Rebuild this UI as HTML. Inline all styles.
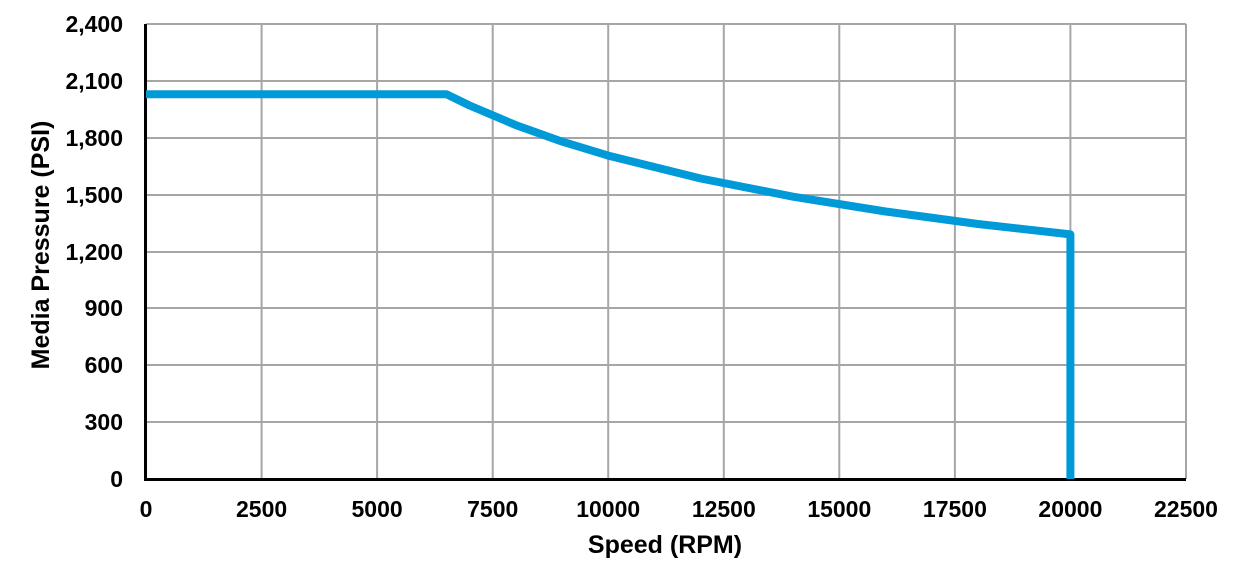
<!DOCTYPE html>
<html><head><meta charset="utf-8"><style>
html,body{margin:0;padding:0;background:#fff;}
svg text{font-family:"Liberation Sans",Arial,sans-serif;font-weight:bold;fill:#000;}
</style></head><body>
<svg width="1244" height="583" xmlns="http://www.w3.org/2000/svg">
<g stroke="#a6a6a6" stroke-width="2">
<line x1="146" y1="24" x2="1186" y2="24"/>
<line x1="146" y1="81" x2="1186" y2="81"/>
<line x1="146" y1="138" x2="1186" y2="138"/>
<line x1="146" y1="195" x2="1186" y2="195"/>
<line x1="146" y1="252" x2="1186" y2="252"/>
<line x1="146" y1="308" x2="1186" y2="308"/>
<line x1="146" y1="365" x2="1186" y2="365"/>
<line x1="146" y1="422" x2="1186" y2="422"/>
<line x1="261.6" y1="24" x2="261.6" y2="479"/>
<line x1="377.1" y1="24" x2="377.1" y2="479"/>
<line x1="492.7" y1="24" x2="492.7" y2="479"/>
<line x1="608.2" y1="24" x2="608.2" y2="479"/>
<line x1="723.8" y1="24" x2="723.8" y2="479"/>
<line x1="839.3" y1="24" x2="839.3" y2="479"/>
<line x1="954.9" y1="24" x2="954.9" y2="479"/>
<line x1="1070.4" y1="24" x2="1070.4" y2="479"/>
<line x1="1186" y1="24" x2="1186" y2="479"/>
</g>
<line x1="145.5" y1="24" x2="145.5" y2="481" stroke="#000" stroke-width="3"/>
<line x1="144" y1="479.5" x2="1186" y2="479.5" stroke="#000" stroke-width="3"/>
<polyline fill="none" stroke="#009ad8" stroke-width="8" stroke-linejoin="round"
points="146,94.2 446.4,94.2 469.6,105.5 515.8,125.1 562,141.6 608.2,155.6 700.7,178.5 793.1,196.7 885.6,211.5 978,224 1070.4,234.4 1070.4,479"/>
<g font-size="23" text-anchor="end">
<text x="123" y="32">2,400</text>
<text x="123" y="89">2,100</text>
<text x="123" y="146">1,800</text>
<text x="123" y="203">1,500</text>
<text x="123" y="260">1,200</text>
<text x="123" y="316">900</text>
<text x="123" y="373">600</text>
<text x="123" y="430">300</text>
<text x="123" y="487">0</text>
</g>
<g font-size="23" text-anchor="middle">
<text x="146" y="517">0</text>
<text x="261.6" y="517">2500</text>
<text x="377.1" y="517">5000</text>
<text x="492.7" y="517">7500</text>
<text x="608.2" y="517">10000</text>
<text x="723.8" y="517">12500</text>
<text x="839.3" y="517">15000</text>
<text x="954.9" y="517">17500</text>
<text x="1070.4" y="517">20000</text>
<text x="1186" y="517">22500</text>
</g>
<g font-size="25" text-anchor="middle">
<text x="665" y="553">Speed (RPM)</text>
<text transform="translate(49,245) rotate(-90)">Media Pressure (PSI)</text>
</g>
</svg>
</body></html>
